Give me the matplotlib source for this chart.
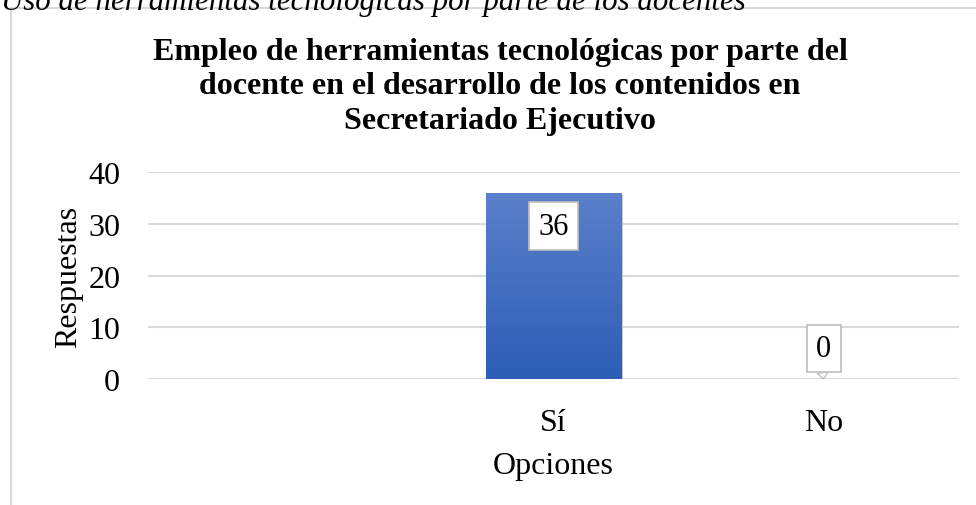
import numpy as np
import matplotlib
matplotlib.use("Agg")
import matplotlib.pyplot as plt
from matplotlib.patches import Rectangle
from matplotlib.colors import LinearSegmentedColormap

# data
categories = ["", "Sí", "No"]
values = [np.nan, 36, 0]
title = ("Empleo de herramientas tecnológicas por parte del\n"
         "docente en el desarrollo de los contenidos en\n"
         "Secretariado Ejecutivo")
caption = "Uso de herramientas tecnológicas por parte de los docentes"
y_ticks = [0, 10, 20, 30, 40]

plt.rcParams["font.family"] = ["Liberation Serif", "DejaVu Serif"]

W, H = 976, 506
fig = plt.figure(figsize=(W / 100, H / 100), dpi=100)

# chart frame (grey border, left and top visible)
fig.add_artist(plt.Line2D([11 / W, 11 / W], [0, 1 - 9 / H], color="#d9d9d9", lw=1.5))
fig.add_artist(plt.Line2D([11 / W, 1], [1 - 9 / H, 1 - 9 / H], color="#d9d9d9", lw=1.5))

# caption above the chart, cut off at the top edge as in the source
fig.text(1 / W, 1 - 10 / H, caption, fontsize=22.2, style="italic", va="baseline", ha="left")

ax = fig.add_axes([148 / W, 1 - 380 / H, (959 - 148) / W, (380 - 173) / H])
x = np.arange(len(categories))
bars = ax.bar(x, values, width=0.5, color="#4472c4", zorder=2)

# vertical gradient fill on the bar
cmap = LinearSegmentedColormap.from_list("blu", ["#2d5db5", "#5b80cc"])
grad = np.linspace(0, 1, 256).reshape(-1, 1)
for b in bars:
    h = b.get_height()
    if not np.isfinite(h) or h <= 0:
        continue
    x0 = b.get_x()
    w = b.get_width()
    b.set_facecolor("none")
    # soft shadow
    ax.add_patch(Rectangle((x0 + 0.006, -0.35), w, h, color="#c8c8c8", zorder=1.5, lw=0))
    im = ax.imshow(grad, cmap=cmap, origin="lower", aspect="auto",
                   extent=(x0, x0 + w, 0, h), zorder=2)
    im.set_clip_path(b)

# data labels in callout boxes
box = dict(boxstyle="square,pad=0.3", fc="white", ec="#bfbfbf", lw=1.2)
for xi, v in zip(x, values):
    if not np.isfinite(v):
        continue
    if v > 5:
        ax.annotate(f"{v:g}", xy=(xi, v), xytext=(0, -24), textcoords="offset points",
                    ha="center", va="center", fontsize=22, bbox=box, zorder=4)
    else:
        ax.annotate(f"{v:g}", xy=(xi, v), xytext=(0, 22), textcoords="offset points",
                    ha="center", va="center", fontsize=22, bbox=box, zorder=4,
                    arrowprops=dict(arrowstyle="wedge,tail_width=0.35,shrink_factor=0.5",
                                    fc="white", ec="#bfbfbf", lw=1.0,
                                    relpos=(0.3, 0.0), shrinkA=0, shrinkB=0))

ax.set_xlim(-0.5, 2.5)
ax.set_ylim(0, 40)
ax.set_yticks(y_ticks)
ax.set_xticks(x)
ax.set_xticklabels(categories)
ax.tick_params(axis="both", length=0, labelsize=23)
ax.tick_params(axis="y", pad=20)
ax.tick_params(axis="x", pad=21)
ax.grid(axis="y", color="#d9d9d9", lw=1.5, zorder=0)
ax.set_axisbelow(True)
for s in ax.spines.values():
    s.set_visible(False)

ax.set_ylabel("Respuestas", fontsize=23, labelpad=4)
ax.set_xlabel("Opciones", fontsize=23, labelpad=10)

fig.text(500 / W, 1 - 87 / H, title, fontsize=23, fontweight="bold",
         ha="center", va="center", linespacing=1.26)

fig.savefig("out.png", dpi=100)
